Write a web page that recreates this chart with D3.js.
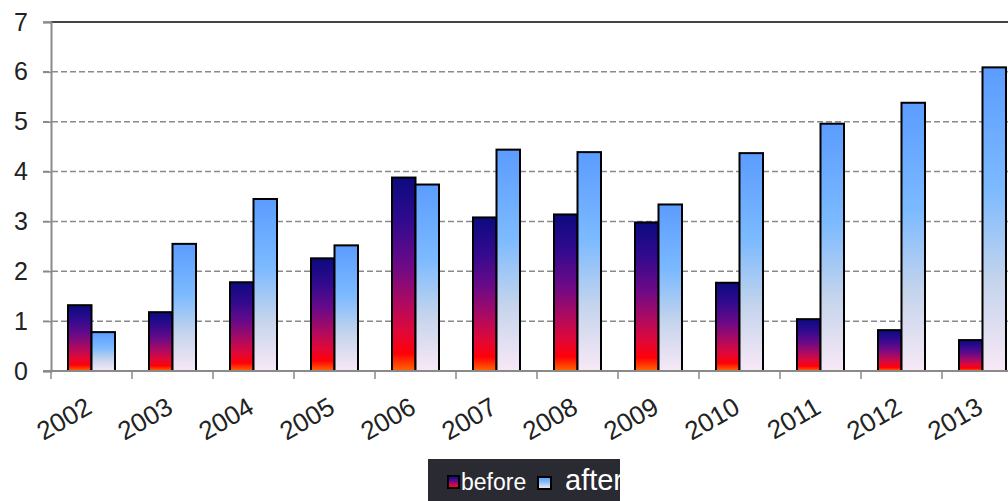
<!DOCTYPE html>
<html>
<head>
<meta charset="utf-8">
<script src="https://cdn.jsdelivr.net/npm/d3@7/dist/d3.min.js"></script>
<style>
  html, body { margin: 0; padding: 0; background: #fff; overflow: hidden; }
  svg { display: block; font-family: "Liberation Sans", Arial, sans-serif; }
</style>
</head>
<body>
<svg id="chart" width="1008" height="501"></svg>
<script>
const years = ["2002","2003","2004","2005","2006","2007","2008","2009","2010","2011","2012","2013"];
const seriesNames = ["before", "after"];
const beforeValues = [1.32, 1.18, 1.78, 2.26, 3.88, 3.08, 3.14, 2.98, 1.77, 1.04, 0.82, 0.62];
const afterValues  = [0.78, 2.55, 3.45, 2.52, 3.74, 4.44, 4.39, 3.34, 4.37, 4.96, 5.38, 6.09];
const yTicks = [0, 1, 2, 3, 4, 5, 6, 7];

const svg = d3.select("#chart");
const W = 1008, H = 501;

const x0 = d3.scaleBand().domain(years).range([51, 51 + 81 * years.length]).paddingInner(0).paddingOuter(0);
const x1 = d3.scaleBand().domain(seriesNames).range([17, 64]);
const y = d3.scaleLinear().domain([0, 7]).range([371, 22]);

// gradients: fiery "before", pale blue "after"
const defs = svg.append("defs");
const gB = defs.append("linearGradient").attr("id", "gBefore").attr("x1", 0).attr("y1", 0).attr("x2", 0).attr("y2", 1);
[[0, "#0c0a7e"], [0.22, "#300a8e"], [0.45, "#6a0a88"], [0.65, "#ae0a60"], [0.8, "#e00838"], [0.91, "#ff0008"], [1, "#ff6a00"]]
  .forEach(([o, c]) => gB.append("stop").attr("offset", o).attr("stop-color", c));
const gA = defs.append("linearGradient").attr("id", "gAfter").attr("x1", 0).attr("y1", 0).attr("x2", 0).attr("y2", 1);
[[0, "#5b9cff"], [0.4, "#7cbaff"], [0.7, "#c4d4ec"], [1, "#f8e8f6"]]
  .forEach(([o, c]) => gA.append("stop").attr("offset", o).attr("stop-color", c));

// horizontal gridlines
svg.append("g").selectAll("line").data(yTicks.filter(t => t > 0 && t < 7)).join("line")
  .attr("x1", 43).attr("x2", W).attr("y1", d => y(d)).attr("y2", d => y(d))
  .attr("stroke", "#8a8a8a").attr("stroke-width", 1.5).attr("stroke-dasharray", "6,3");

// top border line
svg.append("line").attr("x1", 43).attr("x2", 51).attr("y1", y(7)).attr("y2", y(7))
  .attr("stroke", "#999").attr("stroke-width", 1.5);
svg.append("line").attr("x1", 51).attr("x2", W).attr("y1", y(7)).attr("y2", y(7))
  .attr("stroke", "#444").attr("stroke-width", 2);

// y axis
const yAxis = d3.axisLeft(y).tickValues(yTicks).tickSize(8).tickPadding(15).tickFormat(d3.format("d"));
const gy = svg.append("g").attr("transform", "translate(51,0)").call(yAxis);
gy.select(".domain").attr("stroke", "#8a8a8a").attr("stroke-width", 2);
gy.selectAll(".tick line").attr("stroke", "#8a8a8a").attr("stroke-width", 1.5);
gy.selectAll(".tick text").attr("font-size", 25).attr("fill", "#222").attr("font-family", "Liberation Sans, Arial, sans-serif");

// bars
const groups = svg.append("g").selectAll("g").data(years).join("g")
  .attr("transform", d => `translate(${x0(d)},0)`);
groups.selectAll("rect").data((d, i) => [
    { key: "before", v: beforeValues[i] },
    { key: "after", v: afterValues[i] }
  ]).join("rect")
  .attr("x", d => x1(d.key))
  .attr("width", x1.bandwidth())
  .attr("y", d => y(d.v))
  .attr("height", d => y(0) - y(d.v))
  .attr("fill", d => d.key === "before" ? "url(#gBefore)" : "url(#gAfter)")
  .attr("stroke", "#000").attr("stroke-width", 2);

// x axis line and ticks at category boundaries
svg.append("line").attr("x1", 43).attr("x2", W).attr("y1", y(0)).attr("y2", y(0))
  .attr("stroke", "#8a8a8a").attr("stroke-width", 2);
svg.append("g").selectAll("line").data(years).join("line")
  .attr("x1", d => x0(d)).attr("x2", d => x0(d))
  .attr("y1", y(0)).attr("y2", y(0) + 8)
  .attr("stroke", "#8a8a8a").attr("stroke-width", 1.5);

// rotated year labels
svg.append("g").selectAll("text").data(years).join("text")
  .attr("transform", d => `translate(${x0(d) + x0.bandwidth() / 2 + 2},412) rotate(-30)`)
  .attr("text-anchor", "end")
  .attr("font-size", 26).attr("fill", "#222")
  .text(d => d);

// legend
const legend = svg.append("g");
defs.append("clipPath").attr("id", "legClip").append("rect")
  .attr("x", 428).attr("y", 459).attr("width", 192).attr("height", 42);
const lg = legend.attr("clip-path", "url(#legClip)");
lg.append("rect").attr("x", 428).attr("y", 459).attr("width", 192).attr("height", 42).attr("fill", "#2a2a33");
lg.append("rect").attr("x", 448).attr("y", 476).attr("width", 11).attr("height", 12)
  .attr("fill", "url(#gBefore)").attr("stroke", "#000").attr("stroke-width", 2);
lg.append("text").attr("x", 461).attr("y", 490).attr("font-size", 23).attr("fill", "#fff").text(seriesNames[0]);
lg.append("rect").attr("x", 538).attr("y", 477).attr("width", 13).attr("height", 12)
  .attr("fill", "url(#gAfter)").attr("stroke", "#000").attr("stroke-width", 2);
lg.append("text").attr("x", 565).attr("y", 490).attr("font-size", 29).attr("fill", "#fff").text(seriesNames[1]);
</script>
</body>
</html>
